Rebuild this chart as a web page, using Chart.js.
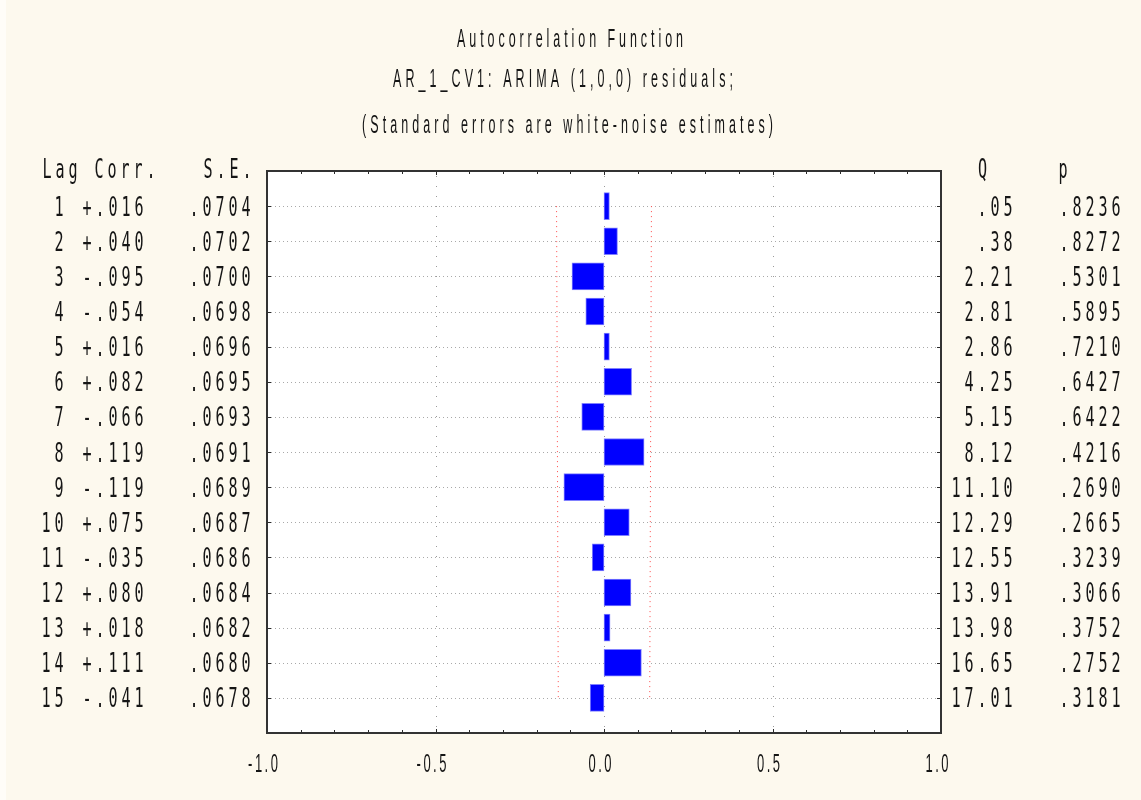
<!DOCTYPE html>
<html>
<head>
<meta charset="utf-8">
<script src="https://cdn.jsdelivr.net/npm/chart.js@4.4.1/dist/chart.umd.min.js"></script>
<style>
  html, body { margin: 0; padding: 0; background: #fdf9ee; }
  #wrap { width: 1141px; height: 800px; }
  canvas { display: block; }
</style>
</head>
<body>
<div id="wrap"><canvas id="c" width="1141" height="800"></canvas></div>
<script>
// ---- data ----
const lags = [1, 2, 3, 4, 5, 6, 7, 8, 9, 10, 11, 12, 13, 14, 15];
const corr = [0.016, 0.040, -0.095, -0.054, 0.016, 0.082, -0.066, 0.119, -0.119, 0.075, -0.035, 0.080, 0.018, 0.111, -0.041];
const corrLabels = ['+.016', '+.040', '-.095', '-.054', '+.016', '+.082', '-.066', '+.119', '-.119', '+.075', '-.035', '+.080', '+.018', '+.111', '-.041'];
const se = [0.0704, 0.0702, 0.0700, 0.0698, 0.0696, 0.0695, 0.0693, 0.0691, 0.0689, 0.0687, 0.0686, 0.0684, 0.0682, 0.0680, 0.0678];
const seLabels = ['.0704', '.0702', '.0700', '.0698', '.0696', '.0695', '.0693', '.0691', '.0689', '.0687', '.0686', '.0684', '.0682', '.0680', '.0678'];
const qLabels = ['.05', '.38', '2.21', '2.81', '2.86', '4.25', '5.15', '8.12', '11.10', '12.29', '12.55', '13.91', '13.98', '16.65', '17.01'];
const pLabels = ['.8236', '.8272', '.5301', '.5895', '.7210', '.6427', '.6422', '.4216', '.2690', '.2665', '.3239', '.3066', '.3752', '.2752', '.3181'];
const xTickValues = [-1, -0.5, 0, 0.5, 1];
const xTickLabels = ['-1.0', '-0.5', '0.0', '0.5', '1.0'];
const titleLines = ['Autocorrelation Function', 'AR_1_CV1: ARIMA (1,0,0) residuals;', '(Standard errors are white-noise estimates)'];

// ---- drawing helpers ----
const BG = '#fdf9ee';
const INK = '#151515';
const MONO = "26px 'DejaVu Sans Mono', 'Liberation Mono', monospace";
const PROP_TITLE = "25px 'Liberation Sans', Arial, sans-serif";
const PROP_TICK = "26px 'Liberation Sans', Arial, sans-serif";
const PITCH = 13;

function monoCells(ctx, text, firstCenter, baseline) {
  ctx.font = MONO;
  ctx.fillStyle = INK;
  ctx.textAlign = 'center';
  ctx.textBaseline = 'alphabetic';
  for (let i = 0; i < text.length; i++) {
    const ch = text[i];
    if (ch === ' ') continue;
    ctx.save();
    ctx.translate(firstCenter + i * PITCH, baseline);
    ctx.scale(0.58, 1);
    ctx.fillText(ch, 0, 0);
    ctx.restore();
  }
}
function monoRight(ctx, text, lastCenter, baseline) {
  monoCells(ctx, text, lastCenter - (text.length - 1) * PITCH, baseline);
}

function propText(ctx, text, font, sx, baseline, opts) {
  ctx.font = font;
  ctx.fillStyle = INK;
  ctx.textAlign = 'left';
  ctx.textBaseline = 'alphabetic';
  const chars = Array.from(text);
  const w = chars.map(ch => ctx.measureText(ch).width * sx);
  const sum = w.reduce((a, b) => a + b, 0);
  let extra, x;
  if (opts.left !== undefined) {
    extra = (opts.width - sum) / (chars.length - 1);
    x = opts.left;
  } else {
    extra = opts.extra;
    const total = sum + extra * (chars.length - 1);
    x = opts.center - total / 2;
  }
  chars.forEach((ch, i) => {
    ctx.save();
    ctx.translate(x, baseline);
    ctx.scale(sx, 1);
    ctx.fillText(ch, 0, 0);
    ctx.restore();
    x += w[i] + extra;
  });
}

const acfPlugin = {
  id: 'acfDecor',
  beforeDraw(chart) {
    const ctx = chart.ctx;
    const a = chart.chartArea;
    const xs = chart.scales.x, ys = chart.scales.y;
    ctx.save();
    ctx.fillStyle = BG;
    ctx.fillRect(0, 0, chart.width, chart.height);
    ctx.fillStyle = '#fffdf8';
    ctx.fillRect(0, 0, 6, chart.height);
    ctx.fillStyle = '#ffffff';
    ctx.fillRect(a.left, a.top, a.right - a.left, a.bottom - a.top);

    // horizontal dotted grid at each lag
    ctx.strokeStyle = '#a9a9a9';
    ctx.lineWidth = 1;
    ctx.setLineDash([1, 3]);
    lags.forEach(l => {
      const y = Math.round(ys.getPixelForValue(l)) + 0.5;
      ctx.beginPath();
      ctx.moveTo(a.left + 4, y);
      ctx.lineTo(a.right - 4, y);
      ctx.stroke();
    });
    // vertical dotted grid at -0.5, 0, 0.5
    ctx.strokeStyle = '#9a9a9a';
    ctx.setLineDash([1, 9]);
    [-0.5, 0, 0.5].forEach(v => {
      const x = Math.round(xs.getPixelForValue(v)) + 0.5;
      ctx.beginPath();
      ctx.moveTo(x, a.top + 5);
      ctx.lineTo(x, a.bottom - 3);
      ctx.stroke();
    });
    ctx.setLineDash([]);

    // titles
    const titleBoxes = [[457, 226, 47], [393, 340, 87], [362, 411, 133]];
    titleLines.forEach((t, i) => {
      propText(ctx, t, PROP_TITLE, 0.5, titleBoxes[i][2], { left: titleBoxes[i][0], width: titleBoxes[i][1] });
    });

    // table headers
    const y0 = ys.getPixelForValue(0);
    const hb = y0 + 7;
    monoCells(ctx, 'Lag Corr.', 47, hb);
    monoRight(ctx, 'S.E.', 247, hb);
    monoCells(ctx, 'Q', 982.5, hb);
    monoCells(ctx, 'p', 1063, hb);

    // table rows
    lags.forEach((l, i) => {
      const b = ys.getPixelForValue(l) + 9.5;
      monoRight(ctx, String(l), 59, b);
      monoRight(ctx, corrLabels[i], 139, b);
      monoRight(ctx, seLabels[i], 246, b);
      monoRight(ctx, qLabels[i], 1008, b);
      monoRight(ctx, pLabels[i], 1116, b);
    });

    // x tick labels
    xTickValues.forEach((v, i) => {
      propText(ctx, xTickLabels[i], PROP_TICK, 0.5, 772, { center: xs.getPixelForValue(v) - 4, extra: 2.5 });
    });
    ctx.restore();
  },
  afterDatasetsDraw(chart) {
    const ctx = chart.ctx;
    const a = chart.chartArea;
    const xs = chart.scales.x, ys = chart.scales.y;
    ctx.save();
    ctx.strokeStyle = '#2a2a2a';
    ctx.lineWidth = 1;
    // inward ticks on top and bottom every 0.1
    for (let k = -9; k <= 9; k++) {
      const v = k / 10;
      const x = Math.round(xs.getPixelForValue(v)) + 0.5;
      const len = (k % 5 === 0) ? 4 : 3;
      ctx.beginPath();
      ctx.moveTo(x, a.top);
      ctx.lineTo(x, a.top + len);
      ctx.moveTo(x, a.bottom);
      ctx.lineTo(x, a.bottom - len);
      ctx.stroke();
    }
    // inward ticks on left and right at each lag
    lags.forEach(l => {
      const y = Math.round(ys.getPixelForValue(l)) + 0.5;
      ctx.beginPath();
      ctx.moveTo(a.left, y);
      ctx.lineTo(a.left + 4, y);
      ctx.moveTo(a.right, y);
      ctx.lineTo(a.right - 4, y);
      ctx.stroke();
    });
    // frame
    ctx.strokeStyle = '#333333';
    ctx.lineWidth = 2;
    ctx.strokeRect(a.left, a.top, a.right - a.left, a.bottom - a.top);
    ctx.restore();
  }
};

const limitStyle = {
  type: 'line',
  indexAxis: 'y',
  borderColor: '#ff4a4a',
  borderWidth: 1,
  borderDash: [1, 4],
  pointRadius: 0,
  fill: false,
  tension: 0,
  order: 2
};

new Chart(document.getElementById('c'), {
  type: 'bar',
  data: {
    datasets: [
      {
        label: 'Corr.',
        data: lags.map((l, i) => ({ x: corr[i], y: l })),
        backgroundColor: '#0000ff',
        borderColor: '#8080ff',
        borderWidth: 1,
        borderSkipped: false,
        barThickness: 27,
        order: 1
      },
      Object.assign({ label: '+2 S.E.', data: lags.map((l, i) => ({ x: 2 * se[i], y: l })) }, limitStyle),
      Object.assign({ label: '-2 S.E.', data: lags.map((l, i) => ({ x: -2 * se[i], y: l })) }, limitStyle)
    ]
  },
  options: {
    indexAxis: 'y',
    responsive: false,
    animation: false,
    layout: { padding: { left: 267, right: 200, top: 171, bottom: 67 } },
    plugins: { legend: { display: false }, tooltip: { enabled: false }, title: { display: false } },
    scales: {
      x: { type: 'linear', min: -1, max: 1, display: false, offset: false },
      y: { type: 'linear', min: 0, max: 16, reverse: true, display: false, offset: false }
    }
  },
  plugins: [acfPlugin]
});
</script>
</body>
</html>
